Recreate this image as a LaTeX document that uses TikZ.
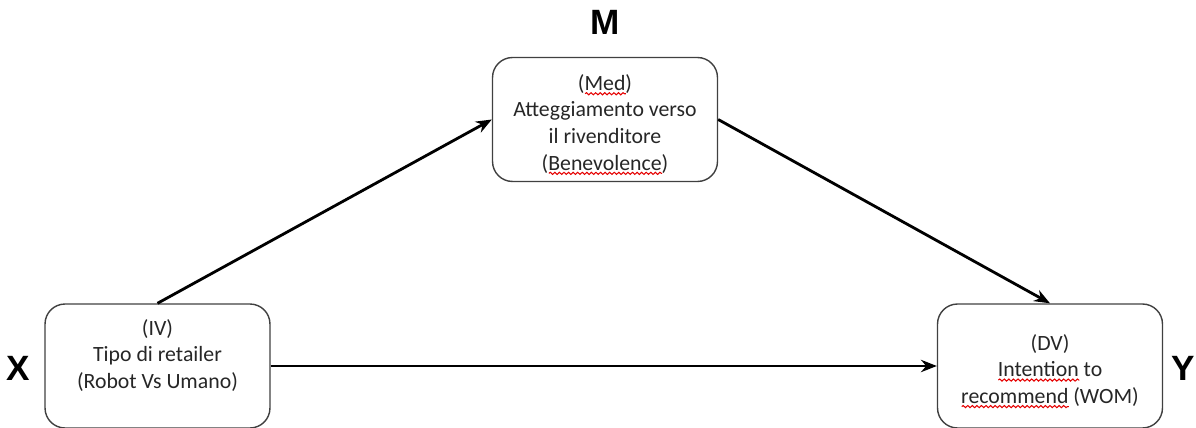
\documentclass[tikz,border=0pt]{standalone}
\usepackage{fontspec}
\setmainfont{Carlito}
\newfontfamily\letterfont{Liberation Sans}
\usepackage{tikz}
\usetikzlibrary{arrows.meta, positioning, decorations.pathmorphing}
\newcommand\spellmark[1]{\setbox0\hbox{#1}\rlap{\raisebox{-2.8pt}{\tikz\draw[red!90!black, line width=0.6pt, sharp corners, decorate, decoration={snake, amplitude=0.6pt, segment length=2.6pt}] (0pt,0pt) -- (\wd0,0pt);}}\box0\relax}
\newcommand\topgap{\rule{0pt}{15pt}}
\tikzstyle{varbox} = [draw=black!75, thick, rectangle, rounded corners=0.4cm, minimum width=4.5cm, minimum height=2.48cm, align=center, text=black!85, font=\fontsize{12.4}{15.1}\selectfont, inner sep=2pt]
\tikzstyle{letter} = [font=\letterfont\bfseries\fontsize{20}{24}\selectfont]
\tikzstyle{arrow} = [draw, -{Stealth[length=9pt, width=7pt]}, line width=1.6pt]

\begin{document}
\begin{tikzpicture}[x=0.02cm, y=-0.02cm]
    \useasboundingbox (0,0) rectangle (1196,428);
    % Draw blocks
    \node (iv) [varbox] at (157.5,366) {\topgap(IV)\\Tipo di retailer\\(Robot Vs Umano)\\\strut};
    \node (med) [varbox] at (605,119.5) {\topgap(\spellmark{Med})\\Atteggiamento verso\\il rivenditore\\(\spellmark{Benevolence})};
    \node (dv) [varbox] at (1050,366) {\topgap(DV)\\\spellmark{Intention} to\\\spellmark{recommend} (WOM)};

    % Letters
    \node (x) [letter] at (18,368) {X};
    \node (m) [letter] at (605,22) {M};
    \node (y) [letter] at (1183,368) {Y};

    % Links
    \draw [arrow] (iv.north) -- (med.west);
    \draw [arrow] (med.east) -- (dv.north);
    \draw [arrow] (iv.east) -- (dv.west);
\end{tikzpicture}
\end{document}
